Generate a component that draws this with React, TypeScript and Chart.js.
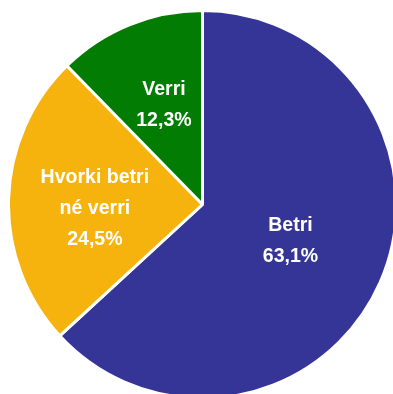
import React, { useEffect, useRef } from "react";
import { Chart, registerables } from "chart.js";

Chart.register(...registerables);

const categories: string[][] = [["Betri"], ["Hvorki betri", "né verri"], ["Verri"]];
const shares: number[] = [63.1, 24.5, 12.3];
const sliceColors: string[] = ["#353597", "#F7B30D", "#037C04"];

// label placement per slice: distance from centre (fraction of radius) and angular nudge (deg)
const labelRadius = [0.49, 0.555, 0.553];
const labelNudge = [-1.5, -3.3, 1.1];

const fmt = (v: number) => v.toFixed(1).replace(".", ",") + "%";

const sliceLabels = {
  id: "sliceLabels",
  afterDatasetsDraw(chart: Chart) {
    const ctx = chart.ctx;
    const meta = chart.getDatasetMeta(0);
    const lineH = 31;
    const squeeze = 0.93;
    meta.data.forEach((el: any, i: number) => {
      const { x, y, startAngle, endAngle, outerRadius } = el.getProps(
        ["x", "y", "startAngle", "endAngle", "outerRadius"],
        true
      );
      const mid = (startAngle + endAngle) / 2 + (labelNudge[i] * Math.PI) / 180;
      const r = outerRadius * labelRadius[i];
      const cx = x + Math.cos(mid) * r;
      const cy = y + Math.sin(mid) * r;
      const lines = [...categories[i], fmt(shares[i])];
      const top = cy - ((lines.length - 1) * lineH) / 2;
      ctx.save();
      ctx.translate(cx, 0);
      ctx.scale(squeeze, 1);
      ctx.fillStyle = "#ffffff";
      ctx.font = "bold 21px 'Liberation Sans', Arial, sans-serif";
      ctx.textAlign = "center";
      ctx.textBaseline = "middle";
      lines.forEach((t, k) => ctx.fillText(t, 0, top + k * lineH));
      ctx.restore();
    });
  },
};

export default function App() {
  const ref = useRef<HTMLCanvasElement>(null);
  useEffect(() => {
    if (!ref.current) return;
    const chart = new Chart(ref.current, {
      type: "pie",
      data: {
        labels: categories.map((c) => c.join(" ")),
        datasets: [
          {
            data: shares,
            backgroundColor: sliceColors,
            borderColor: "#ffffff",
            borderWidth: 3,
          },
        ],
      },
      options: {
        responsive: false,
        animation: false,
        layout: { padding: 0 },
        plugins: {
          legend: { display: false },
          tooltip: { enabled: false },
        },
      },
      plugins: [sliceLabels],
    });
    return () => chart.destroy();
  }, []);
  return (
    <div
      style={{
        position: "fixed",
        left: 0,
        top: 0,
        width: 393,
        height: 394,
        overflow: "hidden",
        background: "#ffffff",
      }}
    >
      <canvas
        ref={ref}
        width={391}
        height={391}
        style={{ position: "absolute", left: 6.5, top: 8.5, width: 391, height: 391 }}
      />
    </div>
  );
}
